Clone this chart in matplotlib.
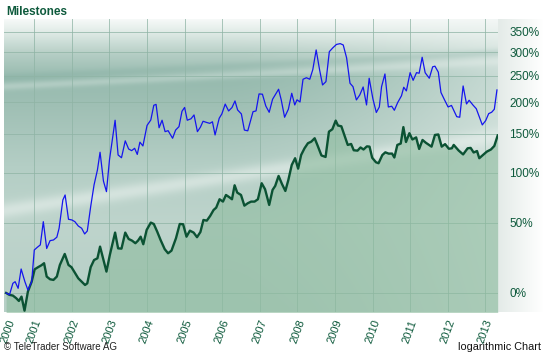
import numpy as np
import matplotlib
matplotlib.use("Agg")
import matplotlib.pyplot as plt
from matplotlib.ticker import NullLocator

plt.rcParams['font.family'] = ['Liberation Sans', 'DejaVu Sans']

# blue series: decimal year, performance in %
blue_years = [2000.25, 2000.34, 2000.43, 2000.49, 2000.57, 2000.65, 2000.75, 2000.83, 2000.93,
              2001.00, 2001.08, 2001.16, 2001.24, 2001.33, 2001.42, 2001.51, 2001.60, 2001.66, 2001.76, 2001.82, 2001.91,
              2002.00, 2002.08, 2002.17, 2002.26, 2002.34, 2002.41, 2002.50, 2002.59, 2002.68, 2002.75, 2002.84, 2002.92,
              2003.00, 2003.15, 2003.23, 2003.32, 2003.42, 2003.51, 2003.59, 2003.67, 2003.74, 2003.81, 2003.89,
              2004.00, 2004.10, 2004.18, 2004.24, 2004.32, 2004.40, 2004.48, 2004.56, 2004.68, 2004.76, 2004.85, 2004.93,
              2005.00, 2005.07, 2005.17, 2005.25, 2005.34, 2005.42, 2005.49, 2005.60, 2005.67, 2005.74, 2005.81, 2005.92, 2005.99,
              2006.08, 2006.17, 2006.26, 2006.34, 2006.41, 2006.51, 2006.59, 2006.68, 2006.76, 2006.82, 2006.90, 2006.98,
              2007.07, 2007.16, 2007.25, 2007.34, 2007.50, 2007.57, 2007.66, 2007.76, 2007.85, 2007.93, 2007.99,
              2008.07, 2008.15, 2008.24, 2008.33, 2008.41, 2008.50, 2008.59, 2008.67, 2008.76, 2008.85, 2008.94,
              2009.04, 2009.14, 2009.22, 2009.31, 2009.40, 2009.48, 2009.57, 2009.66, 2009.75, 2009.84, 2009.91,
              2010.01, 2010.10, 2010.18, 2010.24, 2010.33, 2010.42, 2010.51, 2010.58, 2010.67, 2010.77, 2010.83, 2010.90,
              2011.00, 2011.08, 2011.17, 2011.24, 2011.32, 2011.40, 2011.51, 2011.60, 2011.66, 2011.75, 2011.82, 2011.91,
              2012.01, 2012.10, 2012.24, 2012.32, 2012.41, 2012.50, 2012.57, 2012.67, 2012.76, 2012.84, 2012.92,
              2013.01, 2013.09, 2013.17, 2013.24, 2013.31]
blue_pct = [0, -1.1, 5.7, 6.7, 2.7, 14.8, 6.7, 1.7, 6.7,
            28.1, 30.1, 31.9, 50.8, 29.2, 35.2, 35.7, 37.9, 45.2, 70.9, 75.9, 52.9,
            52.3, 50.8, 47.1, 45.2, 40.5, 42.9, 64.4, 86.4, 103.2, 125, 90.6, 79.3,
            115.2, 170.6, 121.5, 118.0, 140.3, 129.3, 127.1, 130.2, 122.2, 138.5, 133.3,
            162.6, 171.0, 195, 196.5, 159.1, 170.6, 153.4, 154.8, 143.9, 155.7, 160.8, 185.0,
            191.3, 170.6, 172.9, 179.0, 153.4, 160, 169, 166.9, 165.8, 168.2, 148.6, 173.7, 180.6,
            197, 185.5, 191.1, 202.4, 187.1, 180.6, 155.7, 154.6, 171.0, 184.3, 185.5, 214.9,
            214.4, 193.7, 183.3, 205.4, 223.5, 204.4, 175.3, 188.3, 216.1, 195.5, 204.4,
            200.6, 242.7, 245.7, 242.7, 262.2, 305.8, 262.2, 231.6, 238.0, 301.8, 310.5,
            318.9, 320.8, 317.6, 287.5, 234.9, 228.4, 204.2, 213.0, 227.8, 195.5, 244.7,
            205.9, 183.0, 192.1, 228.4, 253.3, 192.1, 193.3, 186.6, 199.8, 211.6, 227.3, 220.4,
            256.0, 240.6, 256.0, 254.8, 289.0, 255.8, 244.7, 268.2, 269.5, 257.0, 217.6, 205.0,
            192.1, 194.7, 176.2, 175.3, 229.7, 197.2, 203.6, 195.5, 189.2, 176.2, 163.4,
            170.0, 181.1, 183.4, 188.3, 222.2]

# green series (filled)
green_years = [2000.25, 2000.34, 2000.43, 2000.52, 2000.59, 2000.66, 2000.74, 2000.83, 2000.93,
               2001.01, 2001.10, 2001.19, 2001.26, 2001.33, 2001.42, 2001.51, 2001.60, 2001.68, 2001.81, 2001.91, 2001.99,
               2002.08, 2002.17, 2002.26, 2002.35, 2002.41, 2002.50, 2002.59, 2002.68, 2002.75, 2002.84, 2002.92,
               2003.01, 2003.15, 2003.23, 2003.32, 2003.42, 2003.51, 2003.60, 2003.69, 2003.76, 2003.83, 2003.90, 2003.99,
               2004.10, 2004.18, 2004.27, 2004.36, 2004.47, 2004.56, 2004.65, 2004.77, 2004.87, 2004.96,
               2005.05, 2005.14, 2005.24, 2005.33, 2005.42, 2005.50, 2005.59, 2005.68, 2005.77, 2005.84, 2005.93,
               2006.02, 2006.10, 2006.19, 2006.26, 2006.33, 2006.40, 2006.50, 2006.59, 2006.68, 2006.77, 2006.86, 2006.95,
               2007.05, 2007.14, 2007.25, 2007.34, 2007.41, 2007.50, 2007.59, 2007.68, 2007.76, 2007.85, 2007.94,
               2008.02, 2008.10, 2008.19, 2008.28, 2008.37, 2008.46, 2008.54, 2008.64, 2008.75, 2008.84, 2008.93,
               2009.02, 2009.08, 2009.17, 2009.26, 2009.34, 2009.43, 2009.50, 2009.60, 2009.68, 2009.76, 2009.85, 2009.92, 2009.99,
               2010.09, 2010.16, 2010.26, 2010.34, 2010.43, 2010.52, 2010.58, 2010.66, 2010.75, 2010.82, 2010.89, 2010.98,
               2011.06, 2011.16, 2011.24, 2011.33, 2011.42, 2011.57, 2011.66, 2011.75, 2011.84, 2011.93,
               2012.03, 2012.11, 2012.16, 2012.24, 2012.29, 2012.41, 2012.53, 2012.61, 2012.69, 2012.78, 2012.84, 2012.94,
               2013.04, 2013.15, 2013.24, 2013.33]
green_pct = [0, -1.1, -1.5, -3.0, -4.5, -2.1, -9.7, 0.8, 6.7,
             14.6, 16.0, 17.3, 18.7, 9.9, 8.2, 7.8, 9.9, 17.5, 25.2, 17.5, 16.0,
             12.4, 8.8, 6.7, 4.7, 5.7, 16.0, 20.9, 22.1, 30.6, 20.9, 13.1,
             24.5, 41.6, 29.3, 29.1, 41.6, 36.5, 35.2, 33.2, 35.2, 38.3, 32.4, 43.8,
             50.0, 48.8, 42.4, 35.7, 28.7, 25.7, 27.6, 37.1, 48.8, 48.6,
             38.3, 43.2, 41.6, 37.9, 42.1, 52.3, 51.7, 55.9, 61.3, 63.5, 71.6,
             69.3, 75.9, 73.6, 71.6, 86.0, 78.3, 75.9, 65.4, 67.7, 69.3, 69.3, 71.6,
             88.2, 81.8, 66.1, 81.1, 85.3, 96.3, 87.4, 80.0, 91.8, 109.1, 117.4,
             104.7, 121.5, 130.2, 137.0, 139.2, 143.9, 133.6, 120.9, 119.0, 153.4, 156.9,
             170.0, 162.5, 161.3, 146.8, 134.7, 136.0, 127.6, 127.1, 131.3, 128.6, 132.8, 132.4, 118.0,
             112.4, 111.2, 121.4, 124.9, 123.2, 123.3, 118.3, 134.7, 136.6, 160.1, 138.7, 151.1,
             142.2, 145.1, 129.3, 141.5, 137.6, 132.4, 148.6, 149.3, 132.4, 135.8,
             129.6, 130.2, 134.7, 130.2, 127.3, 122.2, 130.2, 130.7, 124.7, 126.6, 117.4, 121.5,
             125.8, 128.6, 133.3, 147.9]

year_ticks = [2000.29] + list(range(2001, 2014))
year_labels = [str(y) for y in range(2000, 2014)]
pct_ticks = [0, 50, 100, 150, 200, 250, 300, 350]

dark_green = '#0e5a3c'
W, H = 544, 353
rect = [4 / W, 41 / H, 494 / W, 293 / H]

fig = plt.figure(figsize=(5.44, 3.53), dpi=100)

# background of the plot area (decoration only)
h, w = 293, 494
py, px = np.mgrid[0:h, 0:w].astype(float)
t = py / h
st = [0, 0.04, 0.12, 0.2, 0.3, 0.5, 0.7, 1.0]
sc = np.array([(246, 249, 248), (226, 236, 232), (180, 205, 196), (150, 186, 174),
               (160, 192, 181), (180, 206, 197), (190, 212, 204), (182, 207, 198)], float)
img = np.stack([np.interp(t, st, sc[:, k]) for k in range(3)], axis=-1)
wr = (np.clip((px / w - 0.45) / 0.55, 0, 1) ** 1.5 * 0.55)[..., None]
img = img * (1 - wr) + np.array([240, 245, 243]) * wr
b1 = (0.55 * np.exp(-((py - (191 - 0.15 * px)) / 8) ** 2))[..., None]
img = img * (1 - b1) + np.array([235, 242, 239]) * b1
b2 = (0.25 * np.exp(-((py - (58 - 0.05 * px)) / 4) ** 2))[..., None]
img = img * (1 - b2) + np.array([130, 172, 160]) * b2
b3 = (0.3 * np.exp(-((py - (67 - 0.05 * px)) / 4) ** 2))[..., None]
img = img * (1 - b3) + np.array([235, 242, 239]) * b3
bg = fig.add_axes(rect, zorder=-2)
bg.imshow(img.astype(np.uint8), aspect='auto')
bg.axis('off')

# light strip right of the plot
strip = fig.add_axes([498 / W, 41 / H, 46 / W, 293 / H], zorder=-2)
g = np.linspace(0, 1, 46)
sim = np.array([228, 235, 232])[None, :] * (1 - g[:, None]) + 255 * g[:, None]
strip.imshow(np.tile(sim[None, :, :], (10, 1, 1)).astype(np.uint8), aspect='auto')
strip.axis('off')

ax = fig.add_axes(rect)
ax.set_facecolor('none')
for s in ax.spines.values():
    s.set_visible(False)

gy = 1 + np.array(green_pct) / 100
by = 1 + np.array(blue_pct) / 100
ax.set_yscale('log')
ax.fill_between(green_years, gy, 0.5, color='#8dbb9e', alpha=0.6, lw=0, zorder=2)
ax.plot(green_years, gy, color='#0b5233', lw=1.7, zorder=4)
ax.plot(blue_years, by, color='#1515ee', lw=0.9, zorder=4)

for yr in range(2001, 2014):
    ax.axvline(yr, color='#8fb4a5', lw=0.7, alpha=0.75, zorder=1.5)
for p in pct_ticks:
    ax.axhline(1 + p / 100, color='#8fb4a5', lw=0.7, alpha=0.75, zorder=1.5)

ax.set_xlim(2000.194, 2013.338)
ax.set_ylim(0.896, 4.85)

ax.yaxis.tick_right()
ax.set_yticks([1 + p / 100 for p in pct_ticks])
ax.set_yticklabels([f'{p}%' for p in pct_ticks])
ax.yaxis.set_minor_locator(NullLocator())
ax.tick_params(axis='y', length=0, pad=8, labelsize=8.5, labelcolor=dark_green)

ax.set_xticks(year_ticks)
ax.set_xticklabels(year_labels, rotation=70)
ax.tick_params(axis='x', length=0, pad=4.5, labelsize=8, labelcolor=dark_green)

fig.text(6 / W, 1 - 6 / H, 'Milestones', fontsize=8.5, fontweight='bold',
         color=dark_green, ha='left', va='top')
fig.text(4 / W, (H - 350.5) / H, '\u00a9 TeleTrader Software AG', fontsize=7,
         color='#222222', ha='left', va='baseline')
fig.text(541 / W, (H - 349.5) / H, 'logarithmic Chart', fontsize=7.8,
         color='#111111', ha='right', va='baseline')

fig.savefig('out.png', dpi=100)
